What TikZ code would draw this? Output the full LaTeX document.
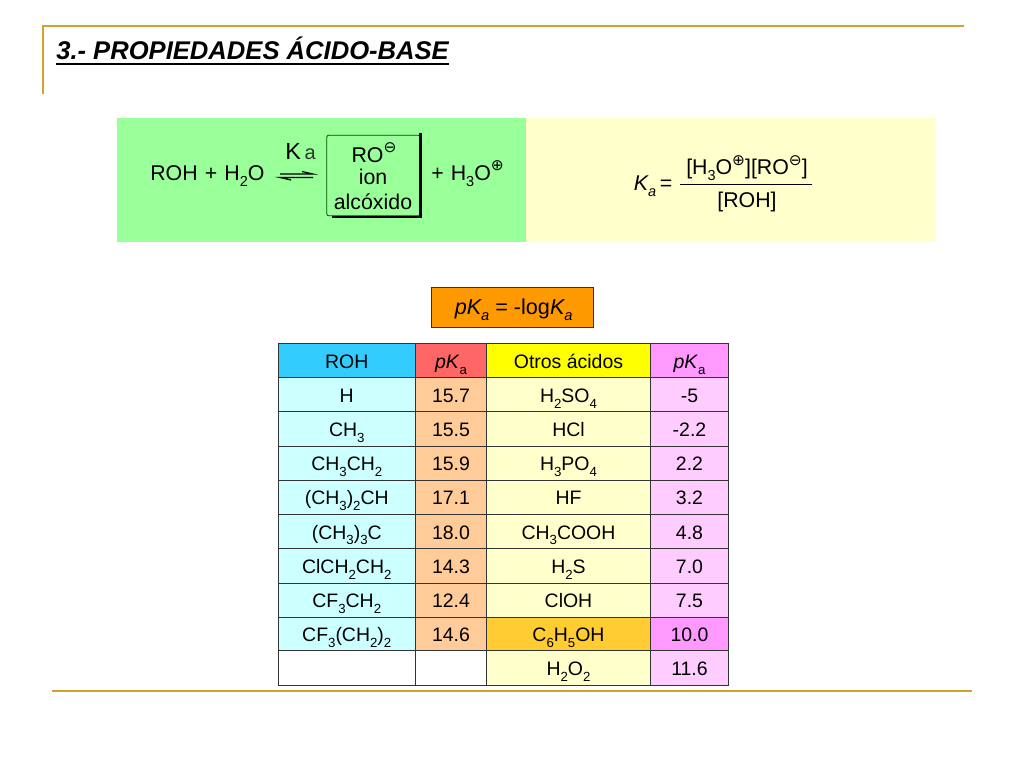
\documentclass[tikz,border=0pt]{standalone}
\usepackage{fontspec}
\usepackage{xcolor}
\setmainfont{Liberation Sans}
\newfontfamily\symfont{DejaVu Sans}
\usetikzlibrary{positioning}

\definecolor{rulegold}{HTML}{D2A32C}
\definecolor{eqgreen}{HTML}{99FF99}
\definecolor{eqyellow}{HTML}{FFFFCC}
\definecolor{formorange}{HTML}{FF9900}
\definecolor{headblue}{HTML}{33CCFF}
\definecolor{headred}{HTML}{FF6666}
\definecolor{headyellow}{HTML}{FFFF00}
\definecolor{headviolet}{HTML}{FF99FF}
\definecolor{rohcyan}{HTML}{CCFFFF}
\definecolor{pkapeach}{HTML}{FFCC99}
\definecolor{acidcream}{HTML}{FFFFCC}
\definecolor{pkapink}{HTML}{FFCCFF}
\definecolor{phenolamber}{HTML}{FFCC33}
\definecolor{linegrey}{HTML}{333333}

% lowered and raised small text
\newcommand{\dn}[1]{\raisebox{-0.55ex}{\scalebox{0.68}{#1}}}
\newcommand{\pl}{\raisebox{0.8ex}{\scalebox{0.72}{\symfont ⊕}}}
\newcommand{\mn}{\raisebox{0.8ex}{\scalebox{0.72}{\symfont ⊖}}}

\tikzset{
  x=0.75pt, y=-0.75pt,
  goldrule/.style={draw=rulegold, line width=1.5pt},
  chem/.style={inner sep=0pt, font=\fontsize{16}{18}\selectfont},
  cell/.style={draw=linegrey, line width=0.8pt, inner sep=0pt, anchor=center,
    text height=12.6pt, text depth=1.4pt, font=\fontsize{14.6}{16}\selectfont},
  colroh/.style={cell, minimum width=103pt},
  colpka/.style={cell, minimum width=53.2pt},
  colacid/.style={cell, minimum width=123pt},
  colpkb/.style={cell, minimum width=58.5pt},
  rowhead/.style={minimum height=26pt},
  rowbody/.style={minimum height=25.6pt}
}

\begin{document}
\begin{tikzpicture}
\useasboundingbox (0,0) rectangle (1024,768);

% frame of the slide
\coordinate (topleft) at (43,25.5);
\coordinate (topright) at (964,25.5);
\coordinate (sidebottom) at (43,94);
\coordinate (footleft) at (52,691);
\coordinate (footright) at (972,691);
\draw[goldrule] (sidebottom) -- (topleft) -- (topright);
\draw[goldrule] (footleft) -- (footright);

\node[anchor=base west, inner sep=0pt, font=\fontsize{19.2}{21}\selectfont\bfseries\itshape] (title) at (56,59.5) {3.- PROPIEDADES ÁCIDO-BASE};
\draw[line width=1.5pt] ([yshift=-3pt]title.base west) -- ([yshift=-3pt]title.base east);

% equilibrium panels
\fill[eqgreen] (117,118) rectangle (526,242);
\fill[eqyellow] (526,118) rectangle (936,242);

\node[chem, anchor=base west] (roh) at (150,180) {ROH\,\,+\,\,H\dn{2}O};
\node[chem, anchor=base west] (kaup) at (285,159) {\fontsize{17.5}{18}\selectfont K\,\textcolor{linegrey}{\fontsize{15}{15}\selectfont a}};
\coordinate (arrowa) at (280,174);
\coordinate (arrowb) at (313,174);
\coordinate (arrowc) at (280,177.5);
\coordinate (arrowd) at (313,177.5);
\draw[line width=0.9pt] (arrowa) -- (arrowb) -- ++(-11,-2.5);
\draw[line width=0.9pt] (arrowd) -- (arrowc) -- ++(11,2.5);

\node[draw=black!70!green, line width=0.6pt, rounded corners=1.5pt, minimum width=70pt, minimum height=60.5pt, inner sep=0pt] (alkoxide) at (373.5,175.5) {};
\draw[line width=2pt] ([yshift=1pt]alkoxide.north east) -- ([yshift=-0.5pt]alkoxide.south east) -- ([xshift=4pt,yshift=-0.5pt]alkoxide.south west);
\node[chem, anchor=base] (roion) at (374,162) {RO\mn};
\node[chem, anchor=base] (ion) at (373,184) {ion};
\node[chem, anchor=base] (alc) at (373,209) {alcóxido};
\node[chem, anchor=base west] (h3o) at (431,180) {+\,\,H\dn{3}O\pl};

\node[chem, anchor=base east, font=\fontsize{16}{18}\selectfont\itshape] (kaleft) at (672.5,190.5) {K\dn{a}\,\upshape =};
\node[chem, anchor=base] (numer) at (747,174.5) {[H\dn{3}O\pl][RO\mn]};
\node[chem, anchor=base] (denom) at (747,207) {[ROH]};
\coordinate (barleft) at (680,184.5);
\coordinate (barright) at (812,184.5);
\draw[line width=0.6pt] (barleft) -- (barright);

% definition of pKa
\node[draw=linegrey, line width=0.8pt, fill=formorange, minimum width=122pt, minimum height=30.5pt, inner sep=0pt, text height=12pt, text depth=2pt, font=\fontsize{16.2}{18}\selectfont] (pkadef) at (512.5,307.5) {\hspace{1.8pt}\textit{pK\dn{a}} = -log\textit{K\dn{a}}};

% header row
\node[colroh, rowhead, fill=headblue] (head1) at (346.75,361) {ROH};
\node[colpka, rowhead, fill=headred] (head2) at (451,361) {\textit{pK}\dn{a}};
\node[colacid, rowhead, fill=headyellow] (head3) at (568.5,361) {Otros ácidos};
\node[colpkb, rowhead, fill=headviolet] (head4) at (689.5,361) {\textit{pK}\dn{a}};

% alcohols
\node[colroh, rowbody, fill=rohcyan] (roh1) at (346.75,395) {H};
\node[colroh, rowbody, fill=rohcyan] (roh2) at (346.75,429) {CH\dn{3}};
\node[colroh, rowbody, fill=rohcyan] (roh3) at (346.75,463.25) {CH\dn{3}CH\dn{2}};
\node[colroh, rowbody, fill=rohcyan] (roh4) at (346.75,497.5) {(CH\dn{3})\dn{2}CH};
\node[colroh, rowbody, fill=rohcyan] (roh5) at (346.75,531.75) {(CH\dn{3})\dn{3}C};
\node[colroh, rowbody, fill=rohcyan] (roh6) at (346.75,566) {ClCH\dn{2}CH\dn{2}};
\node[colroh, rowbody, fill=rohcyan] (roh7) at (346.75,600.25) {CF\dn{3}CH\dn{2}};
\node[colroh, rowbody, fill=rohcyan] (roh8) at (346.75,634.25) {CF\dn{3}(CH\dn{2})\dn{2}};
\node[colroh, rowbody, fill=white] (roh9) at (346.75,668) {};

\node[colpka, rowbody, fill=pkapeach] (pka1) at (451,395) {15.7};
\node[colpka, rowbody, fill=pkapeach] (pka2) at (451,429) {15.5};
\node[colpka, rowbody, fill=pkapeach] (pka3) at (451,463.25) {15.9};
\node[colpka, rowbody, fill=pkapeach] (pka4) at (451,497.5) {17.1};
\node[colpka, rowbody, fill=pkapeach] (pka5) at (451,531.75) {18.0};
\node[colpka, rowbody, fill=pkapeach] (pka6) at (451,566) {14.3};
\node[colpka, rowbody, fill=pkapeach] (pka7) at (451,600.25) {12.4};
\node[colpka, rowbody, fill=pkapeach] (pka8) at (451,634.25) {14.6};
\node[colpka, rowbody, fill=white] (pka9) at (451,668) {};

% other acids
\node[colacid, rowbody, fill=acidcream] (acid1) at (568.5,395) {H\dn{2}SO\dn{4}};
\node[colacid, rowbody, fill=acidcream] (acid2) at (568.5,429) {HCl};
\node[colacid, rowbody, fill=acidcream] (acid3) at (568.5,463.25) {H\dn{3}PO\dn{4}};
\node[colacid, rowbody, fill=acidcream] (acid4) at (568.5,497.5) {HF};
\node[colacid, rowbody, fill=acidcream] (acid5) at (568.5,531.75) {CH\dn{3}COOH};
\node[colacid, rowbody, fill=acidcream] (acid6) at (568.5,566) {H\dn{2}S};
\node[colacid, rowbody, fill=acidcream] (acid7) at (568.5,600.25) {ClOH};
\node[colacid, rowbody, fill=phenolamber] (acid8) at (568.5,634.25) {C\dn{6}H\dn{5}OH};
\node[colacid, rowbody, fill=acidcream] (acid9) at (568.5,668) {H\dn{2}O\dn{2}};

\node[colpkb, rowbody, fill=pkapink] (pkb1) at (689.5,395) {-5};
\node[colpkb, rowbody, fill=pkapink] (pkb2) at (689.5,429) {-2.2};
\node[colpkb, rowbody, fill=pkapink] (pkb3) at (689.5,463.25) {2.2};
\node[colpkb, rowbody, fill=pkapink] (pkb4) at (689.5,497.5) {3.2};
\node[colpkb, rowbody, fill=pkapink] (pkb5) at (689.5,531.75) {4.8};
\node[colpkb, rowbody, fill=pkapink] (pkb6) at (689.5,566) {7.0};
\node[colpkb, rowbody, fill=pkapink] (pkb7) at (689.5,600.25) {7.5};
\node[colpkb, rowbody, fill=headviolet] (pkb8) at (689.5,634.25) {10.0};
\node[colpkb, rowbody, fill=pkapink] (pkb9) at (689.5,668) {11.6};
\end{tikzpicture}
\end{document}
